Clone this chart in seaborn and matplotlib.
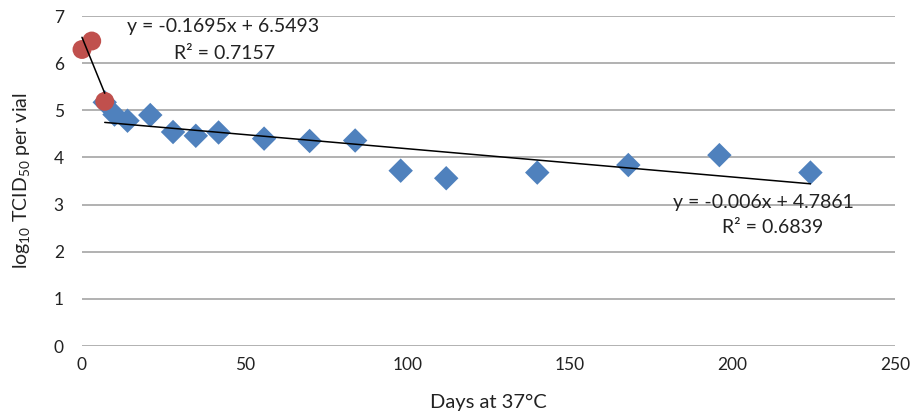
import numpy as np
import pandas as pd
import matplotlib
matplotlib.use("Agg")
import matplotlib.pyplot as plt
import seaborn as sns

# Early phase (days 0-7) and long-term phase (days 7-224)
early_days = [0, 3, 7]
early_titer = [6.29, 6.47, 5.19]
late_days = [7, 10, 14, 21, 28, 35, 42, 56, 70, 84, 98, 112, 140, 168, 196, 224]
late_titer = [5.17, 4.91, 4.78, 4.90, 4.54, 4.46, 4.53, 4.40, 4.35, 4.36,
              3.72, 3.56, 3.68, 3.84, 4.05, 3.68]

# Linear trend fits (slope, intercept, R²)
early_fit = (-0.1695, 6.5493, 0.7157)
late_fit = (-0.006, 4.7861, 0.6839)

x_ticks = [0, 50, 100, 150, 200, 250]
y_ticks = [0, 1, 2, 3, 4, 5, 6, 7]

sns.set_theme(style="white")
plt.rcParams["font.family"] = ["Lato", "DejaVu Sans"]
plt.rcParams["mathtext.fontset"] = "custom"
plt.rcParams["mathtext.rm"] = "Lato"
plt.rcParams["mathtext.it"] = "Lato:italic"

fig = plt.figure(figsize=(9.17, 4.16), dpi=100)
ax = fig.add_axes([0.0894, 0.168, 0.8866, 0.7935])

early = pd.DataFrame({"day": early_days, "titer": early_titer})
late = pd.DataFrame({"day": late_days, "titer": late_titer})

sns.scatterplot(data=late, x="day", y="titer", marker="D", s=155,
                color="#4F81BD", edgecolor="none", ax=ax, zorder=3,
                clip_on=False)
sns.scatterplot(data=early, x="day", y="titer", marker="o", s=185,
                color="#C0504D", edgecolor="none", ax=ax, zorder=4,
                clip_on=False)

# Trend lines from the stated fit equations
for days, (m, b, _) in ((early_days, early_fit), (late_days, late_fit)):
    xs = np.array([min(days), max(days)], dtype=float)
    ax.plot(xs, m * xs + b, color="black", lw=1.1, zorder=5, clip_on=False)

ax.set_xlim(0, 250)
ax.set_ylim(0, 7)
ax.set_xticks(x_ticks)
ax.set_yticks(y_ticks)
ax.yaxis.grid(True, color="#ababab", lw=1.3)
ax.set_axisbelow(True)
for s in ax.spines.values():
    s.set_visible(False)
ax.tick_params(axis="both", labelsize=12.5, length=0, colors="#222222")
ax.tick_params(axis="x", pad=8)
ax.tick_params(axis="y", pad=13)

ax.set_xlabel("Days at 37°C", fontsize=14.5, labelpad=15, color="#222222")
ax.set_ylabel(r"log$_{10}$ TCID$_{50}$ per vial", fontsize=14, labelpad=16,
              color="#222222")

def eq_text(m, b):
    mt = f"{m:.4f}".rstrip("0") if abs(m) < 0.01 else f"{m:.4f}"
    return f"y = {mt}x + {b:.4f}"

ax.text(43.5, 6.78, eq_text(*early_fit[:2]), ha="center", va="center",
        fontsize=14, color="#222222")
ax.text(43.8, 6.2, f"R² = {early_fit[2]:.4f}", ha="center", va="center",
        fontsize=14, color="#222222")
ax.text(209.5, 3.05, eq_text(*late_fit[:2]), ha="center", va="center",
        fontsize=14, color="#222222")
ax.text(212.5, 2.52, f"R² = {late_fit[2]:.4f}", ha="center", va="center",
        fontsize=14, color="#222222")

fig.savefig("out.png", dpi=100)
